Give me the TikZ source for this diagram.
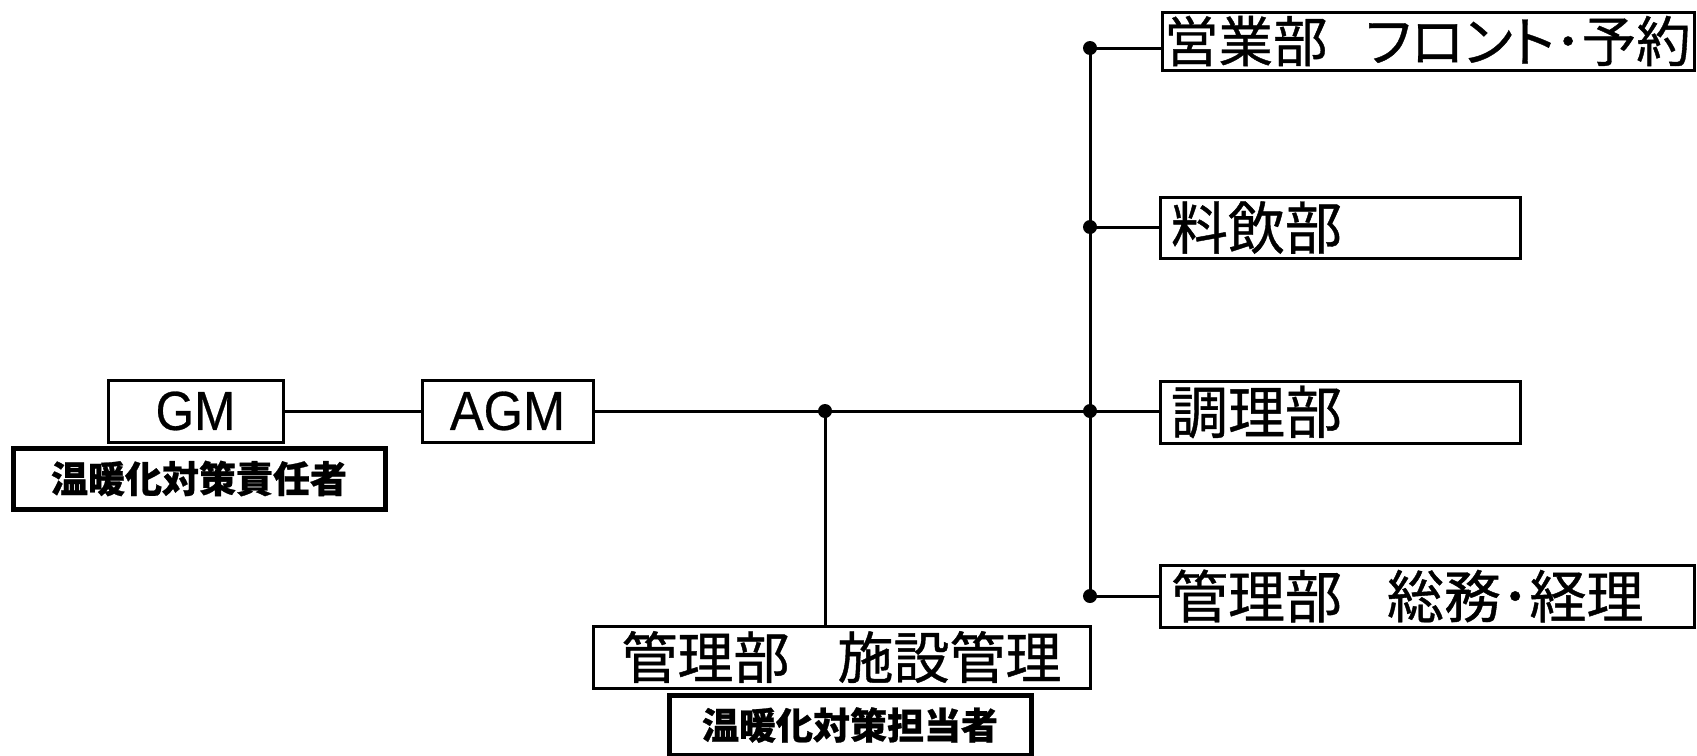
\documentclass[tikz,border=0pt]{standalone}
\usepackage{fontspec}
\setmainfont{Noto Sans CJK JP}
\newfontfamily\jp[FakeBold=0.7]{Noto Sans CJK JP}
\newfontfamily\jpp[RawFeature=+palt,FakeBold=0.7]{Noto Sans CJK JP}
\newfontfamily\lat[FakeBold=0.5]{Liberation Sans}
\tikzset{
  box/.style={draw, line width=3pt, inner ysep=0pt, minimum height=#1},
  thickbox/.style={draw, line width=5pt, inner sep=0pt, minimum height=#1},
  leftbox/.style={box=#1, align=left, inner xsep=0pt},
  dotnode/.style={circle, fill=black, inner sep=0pt, minimum size=14pt},
  wire/.style={line width=3pt},
  bigjp/.style={font=\jp\fontsize{57}{60}\selectfont},
  latfont/.style={font=\lat\fontsize{55}{60}\selectfont},
  boldjp/.style={font=\jp\bfseries\fontsize{37}{42}\selectfont},
}
\begin{document}
\begin{tikzpicture}[x=1pt,y=-1pt]
\useasboundingbox (0,0) rectangle (1697,755);
% left
\node[box=62pt, minimum width=175pt, inner xsep=0pt, latfont] (gm) at (195.5,411) {\scalebox{0.9}[1]{GM}};
\node[thickbox=61pt, minimum width=372pt, boldjp] (resp) at (199,478.5) {温暖化対策責任者};
\node[box=62pt, minimum width=171pt, inner xsep=0pt, latfont] (agm) at (507.5,411) {\scalebox{0.92}[1]{AGM}};
% bottom middle
\node[box=62pt, minimum width=497pt, inner xsep=0pt, font=\jp\fontsize{56}{60}\selectfont] (shisetsu) at (841.5,657) {管理部\hspace*{48pt}施設管理};
\node[thickbox=60pt, minimum width=362pt, boldjp] (tanto) at (850,725) {温暖化対策担当者};
% right boxes
\node[leftbox=58pt, text width=532pt, font=\jp\fontsize{54.5}{60}\selectfont] (eigyo) at (1428,41) {\hspace*{2pt}営業部\hspace*{38pt}{\jpp フロント}･予約};
\node[leftbox=61pt, text width=360pt, bigjp] (ryoin) at (1340,227.5) {\hspace*{11pt}料飲部};
\node[leftbox=62pt, text width=360pt, bigjp] (chori) at (1340,412) {\hspace*{11pt}調理部};
\node[leftbox=62pt, text width=534pt, bigjp] (somu) at (1427,596) {\hspace*{11pt}管理部\hspace*{45pt}総務･経理};
% junction dots
\node[dotnode] (d0) at (825,411) {};
\node[dotnode] (d1) at (1090,48) {};
\node[dotnode] (d2) at (1090,227) {};
\node[dotnode] (d3) at (1090,411) {};
\node[dotnode] (d4) at (1090,596) {};
% connectors
\draw[wire] (gm.east) -- (agm.west);
\draw[wire] (agm.east) -- (agm.east -| chori.west);
\draw[wire] (d0.center) -- (d0.center |- shisetsu.north);
\draw[wire] (d1.center) -- (d4.center);
\draw[wire] (d1.center) -- (d1.center -| eigyo.west);
\draw[wire] (d2.center) -- (d2.center -| ryoin.west);
\draw[wire] (d4.center) -- (d4.center -| somu.west);
\end{tikzpicture}
\end{document}
